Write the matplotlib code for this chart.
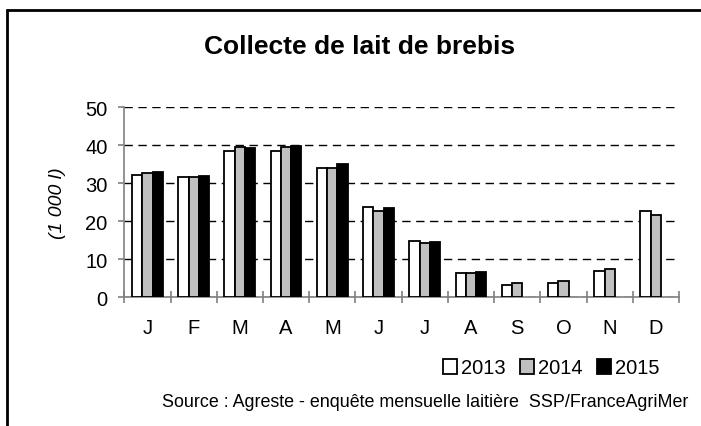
import matplotlib
matplotlib.use("Agg")
import matplotlib.pyplot as plt
import numpy as np
from matplotlib.patches import Rectangle

plt.rcParams['font.family'] = ['Liberation Sans', 'DejaVu Sans']

months = ["J", "F", "M", "A", "M", "J", "J", "A", "S", "O", "N", "D"]
years = ["2013", "2014", "2015"]
v2013 = [32.2, 31.6, 38.5, 38.5, 33.9, 23.8, 14.7, 6.5, 3.2, 3.7, 7.0, 22.7]
v2014 = [32.6, 31.6, 39.5, 39.5, 33.9, 22.6, 14.2, 6.5, 3.8, 4.3, 7.5, 21.7]
v2015 = [32.9, 31.9, 39.3, 39.8, 35.0, 23.6, 14.5, 6.7, np.nan, np.nan, np.nan, np.nan]
colors = ["#ffffff", "#c0c0c0", "#000000"]
yticks = [0, 10, 20, 30, 40, 50]

fig = plt.figure(figsize=(7.01, 4.27), dpi=100)
ax = fig.add_axes([124.3/701, 1-298.3/427, (679-124.3)/701, (298.3-108.3)/427])

x = np.arange(len(months))
w = 1/4.5
for i, (vals, c, lab) in enumerate(zip([v2013, v2014, v2015], colors, years)):
    ax.bar(x + (i-1)*w, vals, width=w, color=c, edgecolor="black", linewidth=1.3, label=lab, zorder=3)

ax.set_xlim(-0.5, len(months)-0.5)
ax.set_ylim(0, 50)
ax.set_yticks(yticks)
ax.set_yticklabels([str(t) for t in yticks], fontsize=14.5)
ax.set_xticks(x)
ax.set_xticklabels(months, fontsize=14.5)
ax.set_xticks(np.arange(-0.5, len(months)), minor=True)
ax.tick_params(axis='x', which='major', length=0, pad=15)
ax.tick_params(axis='x', which='minor', direction='inout', length=8, color='#808080', width=1.2)
ax.tick_params(axis='y', direction='out', length=4, color='#808080', width=1.2, pad=8)
for s in ['top', 'right']:
    ax.spines[s].set_visible(False)
for s in ['left', 'bottom']:
    ax.spines[s].set_color('#808080')
    ax.spines[s].set_linewidth(1.2)
ax.yaxis.grid(True, linestyle=(0, (6, 4)), color='black', linewidth=1.0, zorder=0)
ax.set_axisbelow(True)

ax.set_ylabel("(1 000 l)", fontsize=14, style='italic', labelpad=14)

fig.text(360/701, 1-47/427, "Collecte de lait de brebis", fontsize=19, fontweight='bold',
         ha='center', va='center')

leg = ax.legend(loc='center', bbox_to_anchor=(551/701, 1-369/427), bbox_transform=fig.transFigure,
                ncol=3, frameon=False, fontsize=14.5, handlelength=0.7, handleheight=0.7,
                handletextpad=0.2, columnspacing=0.7, borderaxespad=0)

fig.text(688/701, 1-403/427, "Source : Agreste - enquête mensuelle laitière  SSP/FranceAgriMer",
         fontsize=12.9, ha='right', va='center')

fig.patches.append(Rectangle((7/701, -0.1), 1.2, 1-11/427+0.1, transform=fig.transFigure,
                             fill=False, edgecolor='black', linewidth=2, zorder=10))

fig.savefig("out.png", dpi=100)
